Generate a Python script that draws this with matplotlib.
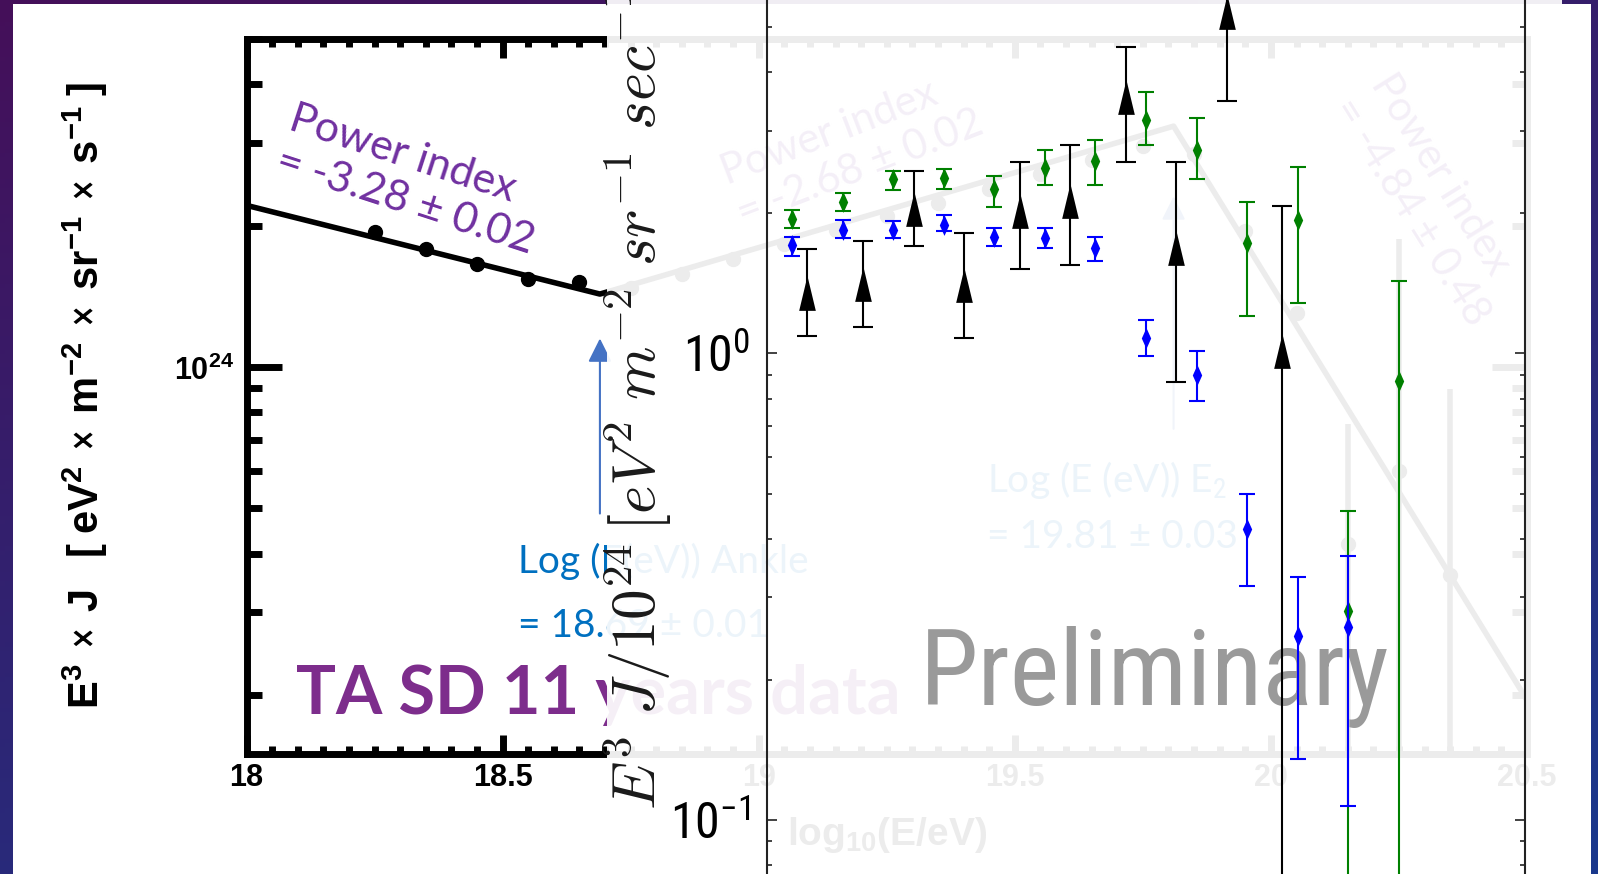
import numpy as np
import matplotlib
matplotlib.use('Agg')
import matplotlib.pyplot as plt
from matplotlib import font_manager
from matplotlib.patches import Rectangle
from matplotlib.ticker import MultipleLocator, LogLocator, NullFormatter

W, H = 1598, 874


def pick_font(names):
    for n in names:
        try:
            font_manager.findfont(font_manager.FontProperties(family=n),
                                  fallback_to_default=False)
            return n
        except ValueError:
            pass
    return 'DejaVu Sans'


NARROW = pick_font(['Liberation Sans Narrow', 'Roboto Condensed', 'Liberation Sans'])
SLIDE = pick_font(['Lato', 'Open Sans', 'Noto Sans'])

plt.rcParams['mathtext.fontset'] = 'custom'
plt.rcParams['mathtext.rm'] = NARROW
plt.rcParams['mathtext.it'] = NARROW + ':italic'
plt.rcParams['mathtext.bf'] = 'Liberation Sans:bold'

# ---- TA SD 11 years spectrum (E^3 J, eV^2 m^-2 sr^-1 s^-1) ----
ta_logE = [18.25, 18.35, 18.45, 18.55, 18.65, 18.75, 18.85, 18.95, 19.05, 19.15,
           19.25, 19.35, 19.45, 19.55, 19.65, 19.75, 19.85, 19.95, 20.05]
ta_flux = [1.94e24, 1.78e24, 1.66e24, 1.54e24, 1.52e24, 1.47e24, 1.58e24, 1.70e24,
           1.83e24, 1.96e24, 2.10e24, 2.24e24, 2.40e24, 2.58e24, 2.76e24, 2.96e24,
           2.85e24, 1.95e24, 1.30e24]
tail_logE = [20.15, 20.25, 20.35]
tail_flux = [4.2e23, 6.0e23, 3.6e23]
tail_lo = [1.53e23, 1.55e23, 1.55e23]
tail_hi = [7.55e23, 1.87e24, 8.98e23]

fit_logE = [18.0, 18.69, 19.81, 20.5]
fit_flux = [2.21e24, 1.43e24, 3.26e24, 1.95e23]

ankle = 18.69
e2 = 19.81

# ---- comparison spectra, E^3 J / 1e24 ----
black_logE = [19.08, 19.19, 19.29, 19.39, 19.50, 19.60, 19.71, 19.81, 19.91, 20.02]
black_y = [1.35, 1.41, 2.04, 1.40, 2.02, 2.12, 3.55, 1.68, 5.39, 1.01]
black_lo = [1.09, 1.14, 1.70, 1.08, 1.52, 1.55, 2.57, 0.867, 3.48, 0.02]
black_hi = [1.67, 1.74, 2.46, 1.81, 2.57, 2.80, 4.53, 2.57, 9.0, 2.07]

green_logE = [19.05, 19.15, 19.25, 19.35, 19.45, 19.55, 19.65, 19.75, 19.85, 19.95,
              20.05, 20.15, 20.25]
green_y = [1.94, 2.11, 2.36, 2.38, 2.25, 2.50, 2.59, 3.17, 2.73, 1.72, 1.93, 0.281, 0.871]
green_lo = [1.86, 2.02, 2.24, 2.25, 2.06, 2.30, 2.30, 2.80, 2.36, 1.20, 1.28, 0.03, 0.02]
green_hi = [2.03, 2.21, 2.46, 2.49, 2.40, 2.73, 2.86, 3.64, 3.19, 2.11, 2.51, 0.459, 1.43]

blue_logE = [19.05, 19.15, 19.25, 19.35, 19.45, 19.55, 19.65, 19.75, 19.85, 19.95,
             20.05, 20.15]
blue_y = [1.71, 1.84, 1.84, 1.88, 1.78, 1.77, 1.68, 1.08, 0.897, 0.420, 0.248, 0.259]
blue_lo = [1.62, 1.77, 1.77, 1.83, 1.70, 1.68, 1.58, 0.985, 0.789, 0.317, 0.135, 0.107]
blue_hi = [1.78, 1.93, 1.92, 1.98, 1.86, 1.86, 1.78, 1.18, 1.01, 0.500, 0.331, 0.368]

x_ticks = [18, 18.5, 19, 19.5, 20, 20.5]
x_ticklabels = ['18', '18.5', '19', '19.5', '20', '20.5']


def px(x, y):
    # slide pixel position -> figure fraction
    return x / W, 1 - y / H


fig = plt.figure(figsize=(W / 100, H / 100), dpi=100)

# slide background + white content box
bg = fig.add_axes([0, 0, 1, 1], zorder=-1)
bg.set_axis_off()
yy, xx = np.mgrid[0:1:200j, 0:1:300j]
t = 0.65 * yy + 0.35 * xx
c_top = np.array([0.27, 0.06, 0.35])
c_bot = np.array([0.10, 0.22, 0.55])
bg.imshow(c_top + (c_bot - c_top) * t[..., None], extent=[0, 1, 0, 1],
          origin='upper', aspect='auto')
bg.add_patch(Rectangle((13 / W, 0), (1591 - 13) / W, 1 - 3.5 / H,
                       facecolor='white', edgecolor='none'))
bg.set_xlim(0, 1)
bg.set_ylim(0, 1)

# ---- left: TA SD spectrum ----
ax1 = fig.add_axes([246.5 / W, 1 - 753.5 / H, (1527 - 246.5) / W, (753.5 - 39) / H],
                   zorder=1)
ax1.patch.set_visible(False)
ax1.set_xlim(18, 20.5)
ax1.set_yscale('log')
ax1.set_ylim(1.5e23, 5e24)
for s in ax1.spines.values():
    s.set_linewidth(5)

ax1.plot(fit_logE, fit_flux, color='black', lw=4, solid_capstyle='butt')
ax1.plot(ta_logE, ta_flux, 'o', color='black', ms=10)
ax1.errorbar(tail_logE, tail_flux,
             yerr=[np.subtract(tail_flux, tail_lo), np.subtract(tail_hi, tail_flux)],
             fmt='o', color='black', ms=10, elinewidth=4, capsize=0)

ax1.set_xticks(x_ticks, x_ticklabels)
ax1.xaxis.set_minor_locator(MultipleLocator(0.05))
ax1.set_yticks([1e24], [r'$\mathbf{10^{24}}$'])
ax1.yaxis.set_minor_locator(LogLocator(subs=range(2, 10)))
ax1.yaxis.set_minor_formatter(NullFormatter())
ax1.tick_params(which='both', direction='in', top=True, right=True, width=5,
                labelsize=22)
ax1.tick_params(axis='x', which='major', length=14, pad=7)
ax1.tick_params(axis='x', which='minor', length=6)
ax1.tick_params(axis='y', which='major', length=25, pad=9)
ax1.tick_params(axis='y', which='minor', length=11)
for lbl in ax1.get_xticklabels():
    lbl.set_fontweight('bold')
    lbl.set_family('Liberation Sans')

ax1.text(0.5, -0.114, r'$\mathbf{log_{10}(E/eV)}$', transform=ax1.transAxes,
         ha='center', va='center', fontsize=28)
ax1.text(*px(85, 395),
         r'$\mathbf{E^{3}}\ \times\ \mathbf{J}\ \ \ \mathbf{[}\ \mathbf{eV^{2}}\ \times\ '
         r'\mathbf{m^{-2}}\ \times\ \mathbf{sr^{-1}}\ \times\ \mathbf{s^{-1}}\ \mathbf{]}$',
         transform=fig.transFigure, rotation=90, ha='center', va='center', fontsize=30)

purple = '#7030a0'
blue_txt = '#0070c0'
ax1.text(*px(412, 180), 'Power index\n= -3.28 \u00b1 0.02', transform=fig.transFigure,
         rotation=-18, rotation_mode='anchor', ha='center', va='center',
         multialignment='left', linespacing=1.2, fontsize=31, family=SLIDE, color=purple)
ax1.text(*px(852, 148), 'Power index\n= -2.68 \u00b1 0.02', transform=fig.transFigure,
         rotation=21, rotation_mode='anchor', ha='center', va='center',
         multialignment='left', linespacing=1.2, fontsize=30, family=SLIDE, color=purple)
ax1.text(*px(1430, 200), 'Power index\n= -4.84 \u00b1 0.48', transform=fig.transFigure,
         rotation=-58, rotation_mode='anchor', ha='center', va='center',
         multialignment='left', linespacing=1.2, fontsize=30, family=SLIDE, color=purple)

ax1.text(*px(518, 573), 'Log (E(eV)) Ankle', transform=fig.transFigure,
         ha='left', va='baseline', fontsize=28, family=SLIDE, color=blue_txt)
ax1.text(*px(518, 637), '= 18.69 \u00b1 0.01', transform=fig.transFigure,
         ha='left', va='baseline', fontsize=28, family=SLIDE, color=blue_txt)
ax1.text(*px(987, 492), 'Log (E (eV)) E$_2$', transform=fig.transFigure,
         ha='left', va='baseline', fontsize=28, family=SLIDE, color=blue_txt)
ax1.text(*px(987, 548), '= 19.81 \u00b1 0.03', transform=fig.transFigure,
         ha='left', va='baseline', fontsize=28, family=SLIDE, color=blue_txt)

arrow = dict(arrowstyle='-|>', color='#4472c4', lw=1.5, mutation_scale=36,
             shrinkA=0, shrinkB=0)
ax1.annotate('', xy=(ankle, 1.15e24), xytext=(ankle, 4.87e23), arrowprops=arrow)
ax1.annotate('', xy=(e2, 2.31e24), xytext=(e2, 7.38e23), arrowprops=arrow)

ax1.text(*px(296, 714), 'TA SD 11 years data', transform=fig.transFigure,
         ha='left', va='baseline', fontsize=48, fontweight='bold', family=SLIDE,
         color='#7d2d8c')

# pasted comparison figure sits on top of the TA panel, slightly see-through
fig.add_artist(Rectangle((607 / W, 0), (1562 - 607) / W, 1, transform=fig.transFigure,
                         facecolor='white', edgecolor='none', alpha=0.93, zorder=1.5))

# ---- right: comparison spectra ----
ax2 = fig.add_axes([767 / W, 0, (1525 - 767) / W, 1], zorder=2)
ax2.patch.set_visible(False)
ax2.set_xlim(19.0, 20.5)
ax2.set_yscale('log')
ax2.set_ylim(0.0766, 5.72)
for side in ['top', 'bottom']:
    ax2.spines[side].set_visible(False)
for side in ['left', 'right']:
    ax2.spines[side].set_linewidth(1.5)
    ax2.spines[side].set_color('#222222')
ax2.tick_params(axis='x', which='both', bottom=False, top=False, labelbottom=False)
ax2.tick_params(axis='y', which='both', direction='in', left=True, right=True,
                color='#222222', width=1.2, labelsize=36, pad=12)
ax2.tick_params(axis='y', which='major', length=7)
ax2.tick_params(axis='y', which='minor', length=3.6)
ax2.set_yticks([0.1, 1], [r'$10^{-1}$', r'$10^{0}$'])
ax2.yaxis.set_minor_locator(LogLocator(subs=range(2, 10)))
ax2.yaxis.set_minor_formatter(NullFormatter())

tri = [(0, 1), (-0.48, -1), (0.48, -1), (0, 1)]
dia = [(0, 1), (0.45, 0), (0, -1), (-0.45, 0), (0, 1)]


def draw_set(x, y, lo, hi, color, marker, ms, cap):
    yerr = [np.subtract(y, lo), np.subtract(hi, y)]
    ax2.errorbar(x, y, yerr=yerr, fmt='none', ecolor=color, elinewidth=1.5,
                 capsize=cap, capthick=1.5)
    ax2.plot(x, y, ls='none', marker=marker, ms=ms, color=color, mew=0)


draw_set(black_logE, black_y, black_lo, black_hi, 'black', tri, 25, 7)
draw_set(green_logE, green_y, green_lo, green_hi, '#008000', dia, 15, 5.5)
draw_set(blue_logE, blue_y, blue_lo, blue_hi, '#0000ff', dia, 15, 5.5)

ax2.text(*px(920, 705), 'Preliminary', transform=fig.transFigure, ha='left',
         va='baseline', fontsize=76, family=NARROW, color='#9a9a9a', zorder=1)

fig.text(*px(656, 810), r'$E^3\ J/10^{24}\,[eV^2\ m^{-2}\ sr^{-1}\ sec^{-1}]$',
         rotation=90, rotation_mode='anchor', ha='left', va='baseline',
         fontsize=44, math_fontfamily='cm', color='#1a1a1a')

fig.savefig('out.png', dpi=100)
